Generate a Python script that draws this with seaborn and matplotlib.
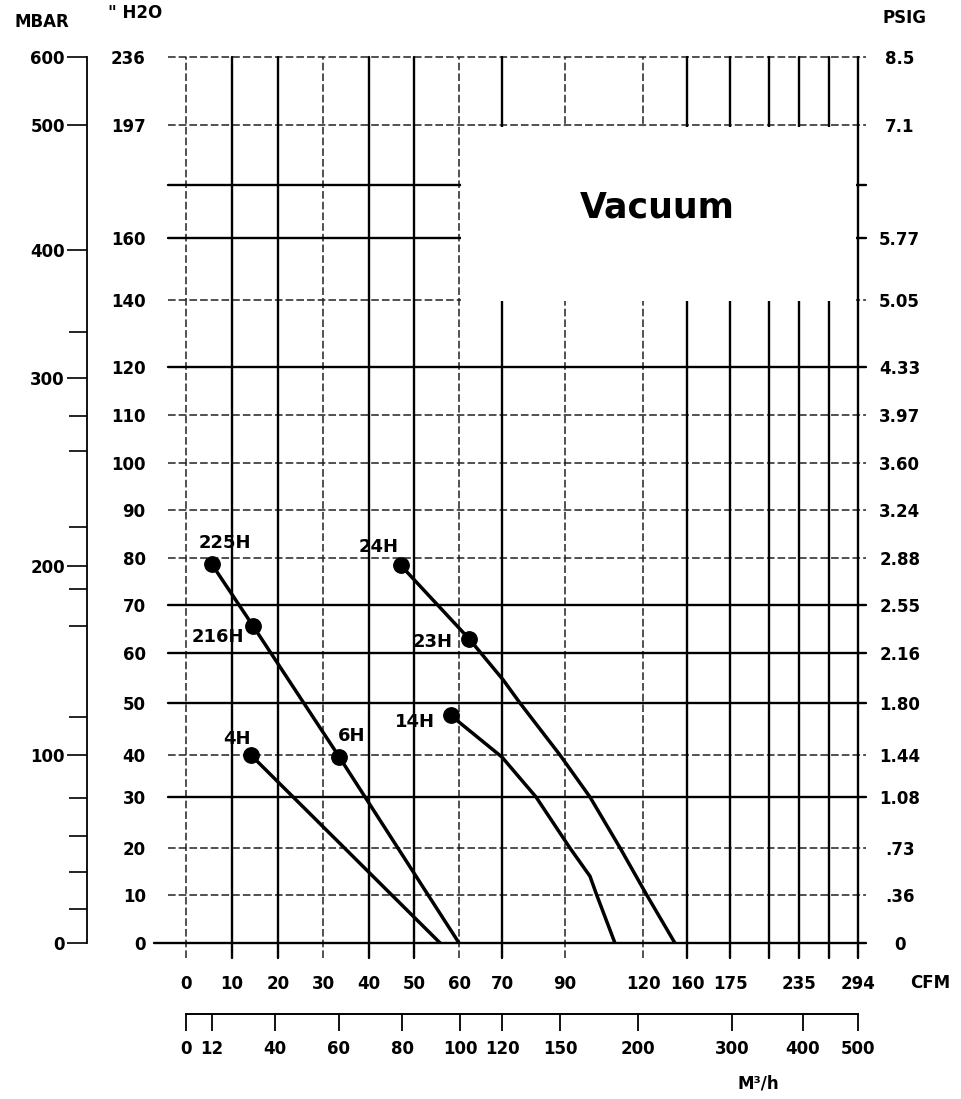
import numpy as np
import pandas as pd
import matplotlib
matplotlib.use('Agg')
import matplotlib.pyplot as plt
from matplotlib.patches import Rectangle
import seaborn as sns

# Axis ticks and labels
cfm_ticks = [0, 10, 20, 30, 40, 50, 60, 70, 90, 120, 160, 175, 205, 235, 265, 294]
cfm_labels = ['0', '10', '20', '30', '40', '50', '60', '70', '90', '120', '160', '175', '', '235', '', '294']
h2o_ticks = [0, 10, 20, 30, 40, 50, 60, 70, 80, 90, 100, 110, 120, 140, 160, 177.5, 197, 236]
h2o_labels = ['0', '10', '20', '30', '40', '50', '60', '70', '80', '90', '100', '110', '120',
              '140', '160', '', '197', '236']
psig_labels = ['0', '.36', '.73', '1.08', '1.44', '1.80', '2.16', '2.55', '2.88', '3.24', '3.60',
               '3.97', '4.33', '5.05', '5.77', '', '7.1', '8.5']
mbar_ticks = [0, 100, 200, 300, 400, 500, 600]
mbar_minor = [18, 38, 57, 77, 120, 168, 188, 221, 261, 280, 336]
m3h_ticks = [0, 12, 40, 60, 80, 100, 120, 150, 200, 300, 400, 500]

# Blower curves: flow (CFM) vs pressure (inches H2O)
curve_225h_cfm = [5.6, 14.6, 33.5, 60]
curve_225h_h2o = [78.7, 65.6, 39.6, 0]
curve_4h_cfm = [14.1, 55.8]
curve_4h_h2o = [40, 0]
curve_24h_cfm = [47.0, 62.4, 70.4, 75.7, 88.4, 99.6, 111.2, 123.4, 149]
curve_24h_h2o = [78.5, 62.9, 54.6, 50, 40, 30, 20, 10, 0]
curve_14h_cfm = [58.2, 70, 80.8, 91.9, 99.6, 102.2, 109.2]
curve_14h_h2o = [47.6, 39.5, 30, 20, 14, 10, 0]

# Model points
model_names = ['225H', '216H', '6H', '4H', '24H', '23H', '14H']
model_cfm = [5.6, 14.6, 33.5, 14.1, 47.0, 62.4, 58.2]
model_h2o = [78.7, 65.6, 39.6, 40, 78.5, 62.9, 47.6]

# ---- layout (pixel positions of the printed grid) ----
W, H = 961, 1099
x_px = [186, 232, 278, 323, 369, 414, 459, 502, 565, 643, 687, 730, 769, 799, 829, 858]
y_px = [943, 895, 848, 797, 755, 703, 653, 605, 558, 510, 463, 415, 367, 300, 238, 185, 125, 57]
mbar_px = [943, 755, 566, 378, 250, 125, 57]
m3h_px = [186, 212, 275, 339, 402, 460, 502, 560, 638, 732, 803, 858]
x_style = ['d', 's', 's', 'd', 's', 's', 'd', 's', 'd', 'd', 's', 's', 's', 's', 's', 's']
y_style = ['s', 'd', 'd', 's', 'd', 's', 's', 's', 'd', 'd', 'd', 'd', 's', 'd', 's', 's', 'd', 'd']
label_offset = {'225H': (13, -21), '216H': (-35, 11), '6H': (13, -21), '4H': (-14, -16),
                '24H': (-22, -18), '23H': (-37, 3), '14H': (-36, 7)}


def piecewise(a, b):
    a = np.asarray(a, float)
    b = np.asarray(b, float)

    def f(v):
        v = np.asarray(v, float)
        out = np.interp(v, a, b)
        out = np.where(v < a[0], b[0] + (v - a[0]) * (b[1] - b[0]) / (a[1] - a[0]), out)
        out = np.where(v > a[-1], b[-1] + (v - a[-1]) * (b[-1] - b[-2]) / (a[-1] - a[-2]), out)
        return out
    return f


def scale_funcs(ticks, pos):
    return piecewise(ticks, pos), piecewise(pos, ticks)


def fig_box(x0, y_top, x1, y_bottom):
    return [x0 / W, 1 - y_bottom / H, (x1 - x0) / W, (y_bottom - y_top) / H]


sns.set_style('white')
plt.rcParams['font.family'] = ['DejaVu Sans']
plt.rcParams['font.weight'] = 'bold'
for k in ['text.color', 'axes.labelcolor', 'xtick.color', 'ytick.color']:
    plt.rcParams[k] = 'black'

fx = scale_funcs(cfm_ticks, [p - 186 for p in x_px])
fy = scale_funcs(h2o_ticks, [943 - p for p in y_px])
fm = scale_funcs(mbar_ticks, [943 - p for p in mbar_px])
fb = scale_funcs(m3h_ticks, [p - 186 for p in m3h_px])

fig = plt.figure(figsize=(9.61, 10.99), dpi=100)
ax = fig.add_axes(fig_box(186, 57, 858, 943))
ax.set_xscale('function', functions=fx)
ax.set_yscale('function', functions=fy)

# curves
curve_df = pd.concat([
    pd.DataFrame({'curve': name, 'cfm': c, 'h2o': h})
    for name, c, h in [('225H', curve_225h_cfm, curve_225h_h2o),
                       ('4H', curve_4h_cfm, curve_4h_h2o),
                       ('24H', curve_24h_cfm, curve_24h_h2o),
                       ('14H', curve_14h_cfm, curve_14h_h2o)]
], ignore_index=True)
point_df = pd.DataFrame({'model': model_names, 'cfm': model_cfm, 'h2o': model_h2o})

sns.lineplot(data=curve_df, x='cfm', y='h2o', units='curve', estimator=None, sort=False,
             color='black', linewidth=2.5, ax=ax, legend=False, zorder=6)
sns.scatterplot(data=point_df, x='cfm', y='h2o', color='black', s=125, edgecolor='black',
                ax=ax, legend=False, zorder=7)

for _, r in point_df.iterrows():
    dx, dy = label_offset[r['model']]
    ax.annotate(r['model'], (r['cfm'], r['h2o']), xytext=(dx, -dy), textcoords='offset pixels',
                ha='center', va='center', fontsize=13, fontweight='bold', zorder=8)

ax.set_xlim(0, 294)
ax.set_ylim(0, 236)
ax.set_xlabel('')
ax.set_ylabel('')

# grid
line_kw = {'s': dict(color='black', lw=1.7, zorder=2),
           'd': dict(color='#222222', lw=1.1, ls=(0, (5, 2)), zorder=1)}
for v, st in zip(cfm_ticks, x_style):
    ax.axvline(v, ymin=-15 / 886, ymax=1, clip_on=False, **line_kw[st])
for v, st in zip(h2o_ticks, y_style):
    left = -32 / 672 if v == 0 else -18 / 672
    ax.axhline(v, xmin=left, xmax=1 + 8 / 672, clip_on=False, **line_kw[st])

# blank "Vacuum" panel
ax.add_patch(Rectangle(((461 - 186) / 672, (943 - 301) / 886), (856 - 461) / 672, (301 - 127) / 886,
                       transform=ax.transAxes, facecolor='white', edgecolor='none', zorder=3))
ax.text((657 - 186) / 672, (943 - 208) / 886, 'Vacuum', transform=ax.transAxes,
        ha='center', va='center', fontsize=25, fontweight='bold', zorder=5)

for s in ax.spines.values():
    s.set_visible(False)
ax.set_xticks(cfm_ticks, cfm_labels)
ax.set_yticks(h2o_ticks, h2o_labels)
ax.minorticks_off()
ax.tick_params(axis='x', length=0, pad=23, labelsize=12)
ax.tick_params(axis='y', length=0, pad=29, labelsize=12)

# PSIG on the right
ax2 = ax.twinx()
ax2.set_yscale('function', functions=fy)
ax2.set_ylim(0, 236)
ax2.set_yticks(h2o_ticks, psig_labels)
ax2.minorticks_off()
ax2.tick_params(axis='y', length=0, pad=30, labelsize=12)
for t in ax2.get_yticklabels():
    t.set_ha('center')
for s in ax2.spines.values():
    s.set_visible(False)

# MBAR scale on the far left
axm = fig.add_axes(fig_box(87, 57, 87.5, 943))
axm.set_yscale('function', functions=fm)
axm.set_ylim(0, 600)
axm.set_yticks(mbar_ticks, [str(v) for v in mbar_ticks])
axm.set_yticks(mbar_minor, minor=True)
axm.set_xticks([])
axm.tick_params(axis='y', which='major', left=True, direction='out', length=14.5, width=1.2,
                pad=1.5, labelsize=12)
axm.tick_params(axis='y', which='minor', left=True, direction='out', length=13, width=1.2)
axm.patch.set_visible(False)
for k in ['right', 'top', 'bottom']:
    axm.spines[k].set_visible(False)
axm.spines['left'].set_linewidth(1.3)
axm.spines['left'].set_color('black')

# M3/h scale under the CFM axis
axb = fig.add_axes(fig_box(186, 1013, 858, 1013.5))
axb.set_xscale('function', functions=fb)
axb.set_xlim(0, 500)
axb.set_xticks(m3h_ticks, [str(v) for v in m3h_ticks])
axb.minorticks_off()
axb.set_yticks([])
axb.tick_params(axis='x', bottom=True, direction='out', length=12, width=1.3, pad=7, labelsize=12)
axb.patch.set_visible(False)
for k in ['left', 'right', 'top']:
    axb.spines[k].set_visible(False)
axb.spines['bottom'].set_linewidth(1.4)
axb.spines['bottom'].set_color('black')

# axis titles
hdr = dict(fontsize=12, fontweight='bold', ha='center', va='center')
fig.text(42 / W, 1 - 22 / H, 'MBAR', **hdr)
fig.text(135 / W, 1 - 13 / H, '" H2O', **hdr)
fig.text(905 / W, 1 - 18 / H, 'PSIG', **hdr)
fig.text(930 / W, 1 - 983 / H, 'CFM', **hdr)
fig.text(758 / W, 1 - 1083 / H, 'M³/h', **hdr)

fig.savefig('out.png', dpi=100)
